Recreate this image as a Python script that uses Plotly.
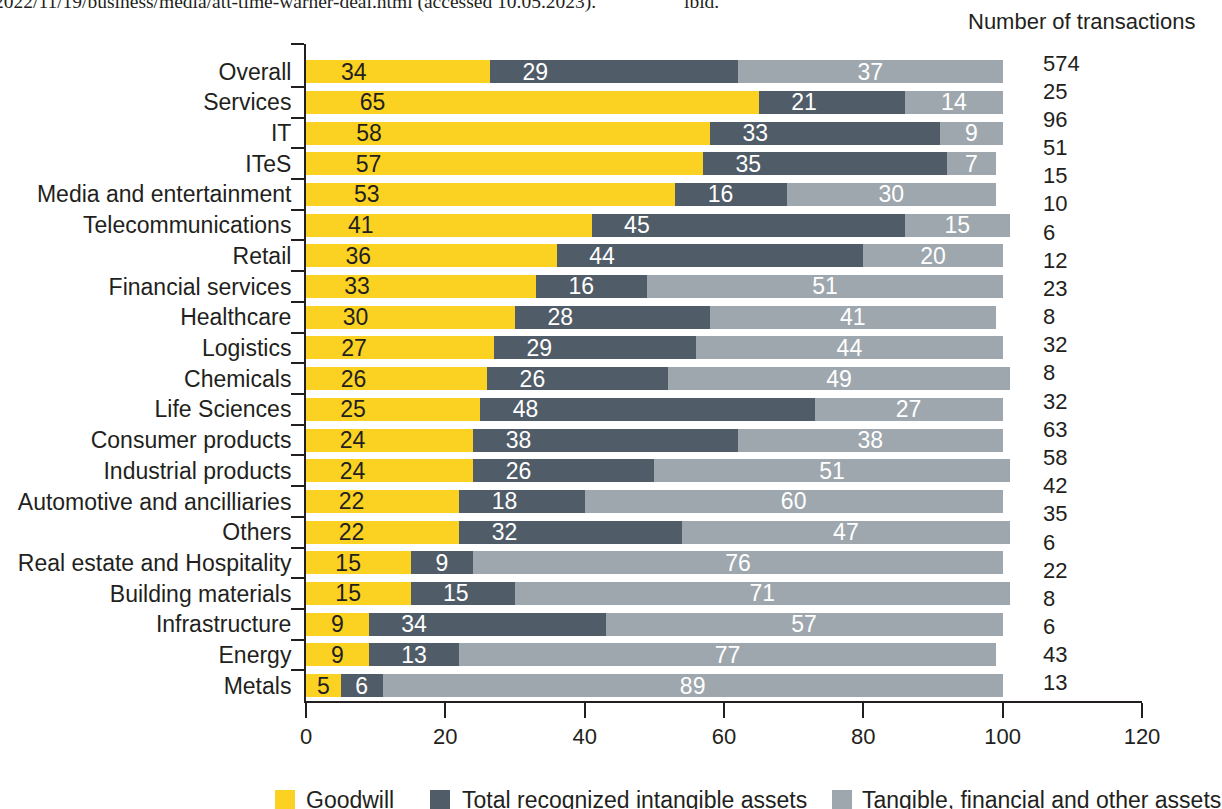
import plotly.graph_objects as go

# ---------------- data ----------------
categories = ["Overall", "Services", "IT", "ITeS", "Media and entertainment",
              "Telecommunications", "Retail", "Financial services", "Healthcare",
              "Logistics", "Chemicals", "Life Sciences", "Consumer products",
              "Industrial products", "Automotive and ancilliaries", "Others",
              "Real estate and Hospitality", "Building materials", "Infrastructure",
              "Energy", "Metals"]
goodwill = [34, 65, 58, 57, 53, 41, 36, 33, 30, 27, 26, 25, 24, 24, 22, 22, 15, 15, 9, 9, 5]
intangible = [29, 21, 33, 35, 16, 45, 44, 16, 28, 29, 26, 48, 38, 26, 18, 32, 9, 15, 34, 13, 6]
tangible = [37, 14, 9, 7, 30, 15, 20, 51, 41, 44, 49, 27, 38, 51, 60, 47, 76, 71, 57, 77, 89]
# the "Overall" row is drawn in the source with lengths that differ from its labels
overall_drawn = [26.4, 35.6, 38.0]
transactions = [574, 25, 96, 51, 15, 10, 6, 12, 23, 8, 32, 8, 32, 63, 58, 42, 35, 6, 22, 8, 6, 43, 13]
x_ticks = [0, 20, 40, 60, 80, 100, 120]
series_names = ["Goodwill", "Total recognized intangible assets",
                "Tangible, financial and other assets"]
source_note = "2022/11/19/business/media/att-time-warner-deal.html (accessed 10.05.2023)."
side_note = "ibid."
right_title = "Number of transactions"

# ---------------- style ----------------
W, H = 1222, 809
ML, MR, MT, MB = 306, 80, 44, 108
PW, PH = W - ML - MR, H - MT - MB
YELLOW, DARK, GREY = "#fcd222", "#505c68", "#9ea7ad"
INK = "#231f20"
SANS = "Liberation Sans, Arial, sans-serif"
SERIF = "Liberation Serif, Times New Roman, serif"
colors = [YELLOW, DARK, GREY]
label_colors = [INK, "white", "white"]
LABEL_DROP = 0.07  # in-bar numbers sit slightly below bar centre


def px_x(px):
    return (px - ML) / PW


def px_y(py):
    return (H - MB - py) / PH


n = len(categories)
ys = list(range(n))
lengths = [list(goodwill), list(intangible), list(tangible)]
for k in range(3):
    lengths[k][0] = overall_drawn[k]
labels = [goodwill, intangible, tangible]

fig = go.Figure()
for k in range(3):
    fig.add_trace(go.Bar(
        y=ys, x=lengths[k], orientation="h", width=0.75,
        marker=dict(color=colors[k], line=dict(width=0)),
        name=series_names[k], showlegend=False, hoverinfo="skip"))

# label positions derived from the stacked lengths
starts = [[0.0] * n, lengths[0][:], [lengths[0][i] + lengths[1][i] for i in range(n)]]
lx = [[], [], []]
for i in range(n):
    g = lengths[0][i]
    lx[0].append(min(g / 2, 5 + 0.07 * g))
    d = lengths[1][i]
    lx[1].append(starts[1][i] + min(d / 2, 6.5))
    t = lengths[2][i]
    lx[2].append(starts[2][i] + t / 2)

for k in range(3):
    fig.add_trace(go.Scatter(
        x=lx[k], y=[y + LABEL_DROP for y in ys], mode="text",
        text=[str(v) for v in labels[k]],
        textposition="middle center",
        textfont=dict(family=SANS, size=23, color=label_colors[k]),
        showlegend=False, hoverinfo="skip", cliponaxis=False))

annotations = []
# number of transactions column
tx_top, tx_step = 63, 28.18
for i, v in enumerate(transactions):
    annotations.append(dict(
        xref="paper", yref="paper", x=px_x(1041), y=px_y(tx_top + i * tx_step),
        xanchor="left", yanchor="middle", text=str(v), showarrow=False,
        font=dict(family=SANS, size=22, color=INK)))
annotations.append(dict(
    xref="paper", yref="paper", x=px_x(1197), y=px_y(22), xanchor="right",
    yanchor="middle", text=right_title, showarrow=False,
    font=dict(family=SANS, size=22, color=INK)))
# cropped source note at the top
annotations.append(dict(
    xref="paper", yref="paper", x=px_x(598), y=px_y(1.5), xanchor="right",
    yanchor="middle", text=source_note, showarrow=False,
    font=dict(family=SERIF, size=19.5, color=INK)))
annotations.append(dict(
    xref="paper", yref="paper", x=px_x(682), y=px_y(1.5), xanchor="left",
    yanchor="middle", text=side_note, showarrow=False,
    font=dict(family=SERIF, size=19.5, color=INK)))

# manual legend
shapes = []
legend_box_x = [275, 430, 832]
legend_text_x = [304, 460, 860]
for k in range(3):
    shapes.append(dict(
        type="rect", xref="paper", yref="paper",
        x0=px_x(legend_box_x[k]), x1=px_x(legend_box_x[k] + 20),
        y0=px_y(790), y1=px_y(812), fillcolor=colors[k], line=dict(width=0)))
    annotations.append(dict(
        xref="paper", yref="paper", x=px_x(legend_text_x[k]), y=px_y(800),
        xanchor="left", yanchor="middle", text=series_names[k], showarrow=False,
        font=dict(family=SANS, size=23, color=INK)))

fig.update_layout(
    width=W, height=H, barmode="stack",
    margin=dict(l=ML, r=MR, t=MT, b=MB, pad=0),
    paper_bgcolor="white", plot_bgcolor="white",
    font=dict(family=SANS, color=INK),
    annotations=annotations, shapes=shapes,
    xaxis=dict(range=[0, 120], tickmode="array", tickvals=x_ticks,
               ticks="outside", ticklen=15, tickwidth=2, tickcolor=INK,
               showline=True, linewidth=2, linecolor=INK,
               showgrid=False, zeroline=False,
               tickfont=dict(family=SANS, size=22, color=INK)),
    yaxis=dict(range=[n - 0.5, -0.9], tickmode="array", tickvals=ys,
               ticktext=categories, ticks="", showline=True, linewidth=2,
               linecolor=INK, showgrid=False, zeroline=False,
               ticklabelstandoff=8,
               tickfont=dict(family=SANS, size=23, color=INK),
               minor=dict(tickmode="array",
                          tickvals=[-0.9] + [i + 0.5 for i in range(n - 1)],
                          ticks="outside", ticklen=13, tickwidth=2,
                          tickcolor=INK, showgrid=False)),
)

fig.write_html("out.html")
